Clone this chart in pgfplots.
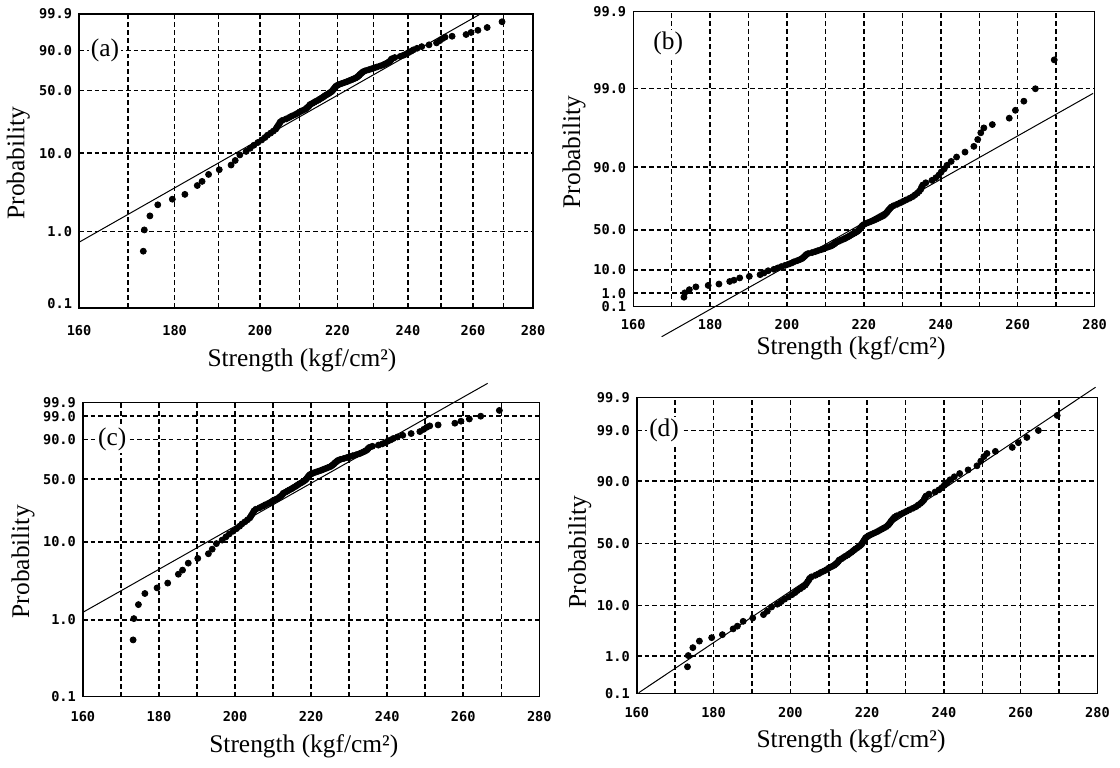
\documentclass[border=0pt]{standalone}
\usepackage{fontspec}
\setmainfont{Liberation Serif}
\newfontfamily\tickfont{DejaVu Sans Mono}
\usepackage{pgfplots}
\usepackage{pgfplotstable}
\pgfplotsset{compat=1.18}

% strength, cumulative probability (%), standard normal variate
\pgfplotstableread{
x F z
173.2 0.55 -2.543
173.4 1.04 -2.312
174.6 1.58 -2.149
176.3 2.20 -2.014
179.5 2.60 -1.943
182.3 3.00 -1.881
185.1 3.90 -1.762
186.2 4.40 -1.706
187.7 5.40 -1.607
190.2 6.20 -1.538
193.0 7.10 -1.468
194.0 8.10 -1.398
195.1 9.50 -1.311
196.6 10.5 -1.2536
197.6 11.5 -1.2004
198.5 12.5 -1.1503
199.5 13.5 -1.1031
200.4 14.5 -1.0581
201.2 15.5 -1.0152
201.8 16.5 -0.9741
202.6 17.5 -0.9346
203.3 18.5 -0.8965
203.9 19.5 -0.8596
204.2 20.5 -0.8239
204.5 21.5 -0.7892
204.8 22.5 -0.7554
205.0 23.5 -0.7225
205.5 24.5 -0.6903
206.5 25.5 -0.6588
207.3 26.5 -0.6280
208.0 27.5 -0.5978
208.8 28.5 -0.5681
209.5 29.5 -0.5388
210.0 30.5 -0.5101
210.7 31.5 -0.4817
211.4 32.5 -0.4538
211.8 33.5 -0.4261
212.2 34.5 -0.3989
212.5 35.5 -0.3719
212.7 36.5 -0.3451
213.3 37.5 -0.3186
213.8 38.5 -0.2924
214.3 39.5 -0.2663
214.9 40.5 -0.2404
215.3 41.5 -0.2147
215.8 42.5 -0.1891
216.2 43.5 -0.1637
216.6 44.5 -0.1383
217.0 45.5 -0.1130
217.5 46.5 -0.0878
217.9 47.5 -0.0627
218.3 48.5 -0.0376
218.6 49.5 -0.0125
218.8 50.5 0.0125
219.0 51.5 0.0376
219.2 52.5 0.0627
219.4 53.5 0.0878
219.6 54.5 0.1130
220.0 55.5 0.1383
220.5 56.5 0.1637
221.2 57.5 0.1891
221.9 58.5 0.2147
222.6 59.5 0.2404
223.2 60.5 0.2663
223.8 61.5 0.2924
224.4 62.5 0.3186
225.0 63.5 0.3451
225.4 64.5 0.3719
225.7 65.5 0.3989
226.0 66.5 0.4261
226.2 67.5 0.4538
226.5 68.5 0.4817
226.8 69.5 0.5101
227.1 70.5 0.5388
227.7 71.5 0.5681
228.6 72.5 0.5978
229.4 73.5 0.6280
230.2 74.5 0.6588
231.0 75.5 0.6903
231.9 76.5 0.7225
232.7 77.5 0.7554
233.3 78.5 0.7892
233.9 79.5 0.8239
234.4 80.5 0.8596
234.8 81.5 0.8965
235.0 82.5 0.9346
235.3 83.5 0.9741
236.1 84.5 1.0152
237.7 85.5 1.0581
238.7 86.5 1.1031
239.5 87.5 1.1503
240.1 88.5 1.2004
240.9 89.5 1.2536
241.6 90.5 1.3106
242.7 91.5 1.3722
244.1 92.5 1.4395
246.3 93.5 1.5141
248.6 94.5 1.5982
249.6 95.5 1.6954
250.4 96.3 1.7866
251.2 96.8 1.8522
253.4 97.1 1.8957
257.8 97.6 1.9774
259.4 98.1 2.0749
261.6 98.55 2.1834
264.6 99.0 2.3263
269.5 99.58 2.6365
}\strength

\pgfplotsset{
  prob/.style={
    scale only axis, clip=false,
    anchor=south west,
    axis line style={line width=0.7pt},
    major tick length=0pt, minor tick num=0,
    grid=major,
    major grid style={black, line width=0.75pt, dash pattern=on 2.4pt off 1.5pt},
    ticklabel style={font=\tickfont\bfseries\fontsize{6.8}{7}\selectfont},
    label style={font=\fontsize{12.7}{14}\selectfont},
    ylabel=Probability,
    xlabel={Strength (kgf/cm²)},
    xmin=160, xmax=280,
    xtick={170,180,190,200,210,220,230,240,250,260,270},
    xticklabels={,180,,200,,220,,240,,260,},
    extra x ticks={160,280}, extra x tick labels={160,280},
    extra x tick style={grid=none},
    extra y tick style={grid=none},
  },
  dots/.style={only marks, mark=*, mark size=1.5pt, black},
  fitline/.style={black, line width=0.5pt},
}
\tikzset{tag/.style={fill=white, inner sep=1pt, font=\fontsize{12.7}{14}\selectfont}}

\begin{document}
\begin{tikzpicture}
\path[use as bounding box] (0,0) rectangle (560pt,383.5pt);

% (a) Weibull paper, log strength
\begin{axis}[prob, xmode=log,
  at={(39.5pt,229.5pt)}, width=227pt, height=147pt,
  ymin=-6.907, ymax=1.933,
  ytick={-4.600,-2.250,-0.3665,0.834},
  yticklabels={1.0,10.0,50.0,90.0},
  extra y ticks={-6.907,1.933},
  extra y tick labels={\raisebox{5pt}{0.1},99.9},
  xticklabel style={yshift=-5pt},
  xlabel style={at={(axis description cs:0.491,-0.177)}, anchor=center},
  ylabel style={at={(axis description cs:-0.134,0.493)}, anchor=center},
]
\addplot[fitline] coordinates {(160,-4.93) (262.4,1.933)};
\addplot[dots] table[x=x, y expr={ln(-ln(1-\thisrow{F}/100))}] {\strength};
\node[tag] at (axis cs:165.2,0.834) {(a)};
\end{axis}

% (b) Gumbel (largest) paper
\begin{axis}[prob,
  at={(316.6pt,230.15pt)}, width=230.7pt, height=147.5pt,
  ymin=-1.933, ymax=6.907,
  ytick={-1.527,-0.834,0.3665,2.250,4.600},
  yticklabels={1.0,10.0,50.0,90.0,99.0},
  extra y ticks={-1.933,6.907},
  extra y tick labels={0.1,99.9},
  xticklabel style={yshift=-3pt},
  xlabel style={at={(axis description cs:0.472,-0.14)}, anchor=center},
  ylabel style={at={(axis description cs:-0.128,0.525)}, anchor=center},
]
\addplot[fitline] coordinates {(167.4,-2.833) (279.6,4.459)};
\addplot[dots] table[x=x, y expr={-ln(-ln(\thisrow{F}/100))}] {\strength};
\node[tag] at (axis cs:169.1,5.95) {(b)};
\end{axis}

% (c) smallest extreme value paper
\begin{axis}[prob,
  at={(41.45pt,35.15pt)}, width=228.2pt, height=147pt,
  ymin=-6.907, ymax=1.933,
  ytick={-4.600,-2.250,-0.3665,0.834,1.527},
  yticklabels={1.0,10.0,50.0,90.0,99.0},
  extra y ticks={-6.907,1.933},
  extra y tick labels={0.1,99.9},
  xticklabel style={yshift=-4pt},
  xlabel style={at={(axis description cs:0.484,-0.170)}, anchor=center},
  ylabel style={at={(axis description cs:-0.131,0.459)}, anchor=center},
]
\addplot[fitline] coordinates {(160,-4.37) (266.4,2.514)};
\addplot[dots] table[x=x, y expr={ln(-ln(1-\thisrow{F}/100))}] {\strength};
\node[tag] at (axis cs:167.7,0.834) {(c)};
\end{axis}

% (d) normal paper
\begin{axis}[prob,
  at={(318.4pt,36.85pt)}, width=230.35pt, height=148pt,
  ymin=-3.09, ymax=3.01,
  ytick={-2.326,-1.2816,0,1.2816,2.326},
  yticklabels={1.0,10.0,50.0,90.0,99.0},
  extra y ticks={-3.09,3.01},
  extra y tick labels={0.1,99.9},
  xticklabel style={yshift=-3.5pt},
  xlabel style={at={(axis description cs:0.465,-0.1635)}, anchor=center},
  ylabel style={at={(axis description cs:-0.124,0.478)}, anchor=center},
]
\addplot[fitline] coordinates {(160.5,-3.078) (279.5,3.218)};
\addplot[dots] table[x=x, y=z] {\strength};
\node[tag] at (axis cs:167.1,2.326) {(d)};
\end{axis}
\end{tikzpicture}
\end{document}
